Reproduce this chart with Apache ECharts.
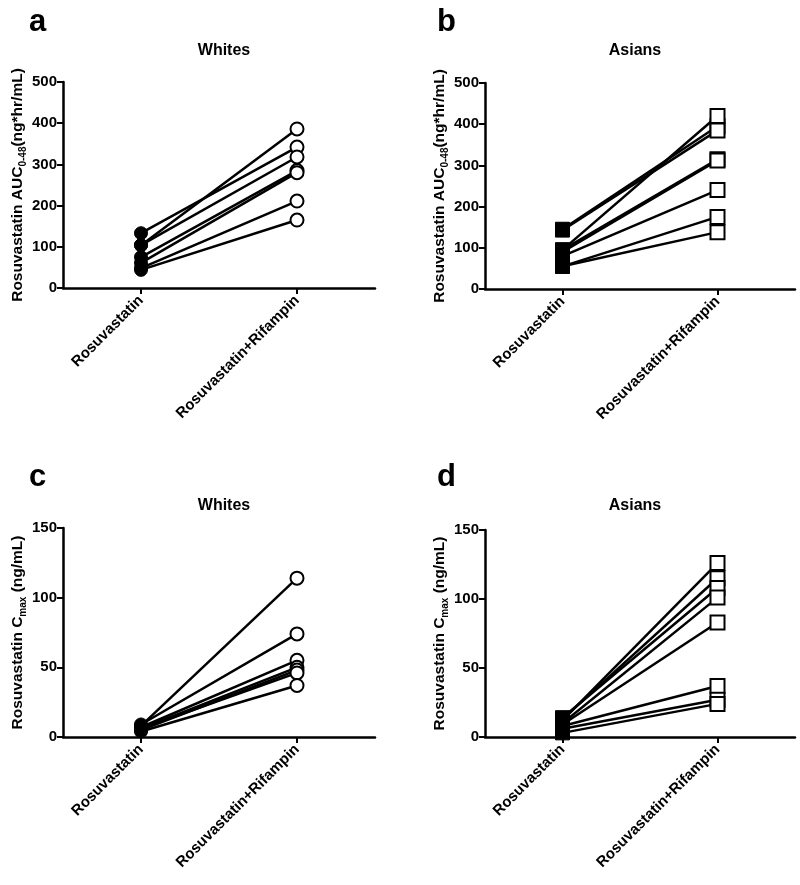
<!DOCTYPE html>
<html>
<head>
<meta charset="utf-8">
<script src="https://cdn.jsdelivr.net/npm/echarts@6/dist/echarts.min.js"></script>
<style>html,body{margin:0;padding:0;background:#fff}#c{width:800px;height:885px}</style>
</head>
<body>
<div id="c"></div>
<script>
const categories = ['Rosuvastatin', 'Rosuvastatin+Rifampin'];
const panelLetters = ['a', 'b', 'c', 'd'];
const panelTitles = ['Whites', 'Asians', 'Whites', 'Asians'];
const aucTicks = [0, 100, 200, 300, 400, 500];
const cmaxTicks = [0, 50, 100, 150];

// Panel a: Whites AUC0-48
const whitesAucR  = [133, 104, 104, 75, 61, 48, 44];
const whitesAucRR = [342, 386, 318, 285, 280, 211, 165];
// Panel b: Asians AUC0-48
const asiansAucR  = [145, 143, 95, 95, 90, 80, 55, 55];
const asiansAucRR = [395, 385, 420, 315, 312, 240, 175, 138];
// Panel c: Whites Cmax
const whitesCmaxR  = [8, 9, 7, 6, 5, 6, 4];
const whitesCmaxRR = [114, 74, 55, 50, 48, 46, 37];
// Panel d: Asians Cmax
const asiansCmaxR  = [12, 13, 14, 10, 9, 8, 6, 3];
const asiansCmaxRR = [126, 115, 108, 101, 83, 37, 27, 24];

const FONT = 'Liberation Sans, Arial, sans-serif';
const grids = [
  {left: 63, top: 82, width: 312, height: 206},
  {left: 485, top: 83, width: 310, height: 206},
  {left: 63, top: 528, width: 312, height: 209},
  {left: 485, top: 530, width: 310, height: 207}
];
const letterPos = [[24, 2], [432, 2], [24, 457], [432, 457]];
const titleCenters = [219, 630, 219, 630];
const titleTops = [38, 38, 493, 493];

const panels = [
  {r: whitesAucR, rr: whitesAucRR, sym: 'circle', ticks: aucTicks, name: '{a|Rosuvastatin AUC}{s|0-48}{a|(ng*hr/mL)}'},
  {r: asiansAucR, rr: asiansAucRR, sym: 'rect', ticks: aucTicks, name: '{a|Rosuvastatin AUC}{s|0-48}{a|(ng*hr/mL)}'},
  {r: whitesCmaxR, rr: whitesCmaxRR, sym: 'circle', ticks: cmaxTicks, name: '{a|Rosuvastatin C}{s|max}{a| (ng/mL)}'},
  {r: asiansCmaxR, rr: asiansCmaxRR, sym: 'rect', ticks: cmaxTicks, name: '{a|Rosuvastatin C}{s|max}{a| (ng/mL)}'}
];

const title = [];
panelLetters.forEach((l, i) => {
  title.push({text: l, left: letterPos[i][0], top: letterPos[i][1],
    textStyle: {fontFamily: FONT, fontWeight: 'bold', fontSize: 31, color: '#000'}});
  title.push({text: panelTitles[i], left: titleCenters[i], top: titleTops[i], textAlign: 'center',
    textStyle: {fontFamily: FONT, fontWeight: 'bold', fontSize: 16, color: '#000'}});
});

const xAxis = [], yAxis = [], series = [];
panels.forEach((p, i) => {
  xAxis.push({
    gridIndex: i, type: 'value', min: -0.5, max: 1.5,
    axisLine: {show: true, onZero: false, lineStyle: {color: '#000', width: 2.5}},
    axisTick: {show: true, customValues: [0, 1], length: 6, lineStyle: {color: '#000', width: 2}},
    axisLabel: {customValues: [0, 1], rotate: 45, margin: 10,
      formatter: v => categories[Math.round(v)],
      fontFamily: FONT, fontWeight: 'bold', fontSize: 15, color: '#000'},
    splitLine: {show: false}
  });
  const mx = p.ticks[p.ticks.length - 1];
  yAxis.push({
    gridIndex: i, type: 'value', min: 0, max: mx, interval: p.ticks[1] - p.ticks[0],
    axisLine: {show: true, onZero: false, lineStyle: {color: '#000', width: 2.5}},
    axisTick: {show: true, length: 6, lineStyle: {color: '#000', width: 2}},
    axisLabel: {fontFamily: FONT, fontWeight: 'bold', fontSize: 15, color: '#000', margin: 6},
    splitLine: {show: false},
    name: p.name, nameLocation: 'middle', nameGap: 35, nameRotate: 90,
    nameTextStyle: {
      rich: {
        a: {fontFamily: FONT, fontWeight: 'bold', fontSize: 15.5, color: '#000', lineHeight: 20, verticalAlign: 'middle'},
        s: {fontFamily: FONT, fontWeight: 'bold', fontSize: 10, color: '#000', lineHeight: 20, verticalAlign: 'bottom', padding: [8, 0, 0, 0]}
      }
    }
  });
  p.r.forEach((rv, k) => {
    series.push({
      type: 'line', xAxisIndex: i, yAxisIndex: i,
      symbol: p.sym, symbolSize: p.sym === 'rect' ? 14 : 13,
      lineStyle: {color: '#000', width: 2.5},
      animation: false, z: 3,
      data: [
        {value: [0, rv], itemStyle: {color: '#000', borderColor: '#000', borderWidth: 1}},
        {value: [1, p.rr[k]], itemStyle: {color: '#fff', borderColor: '#000', borderWidth: 2}}
      ]
    });
  });
});

const chart = echarts.init(document.getElementById('c'), null, {renderer: 'canvas'});
chart.setOption({
  backgroundColor: '#fff', animation: false,
  title, grid: grids, xAxis, yAxis, series
});
</script>
</body>
</html>
